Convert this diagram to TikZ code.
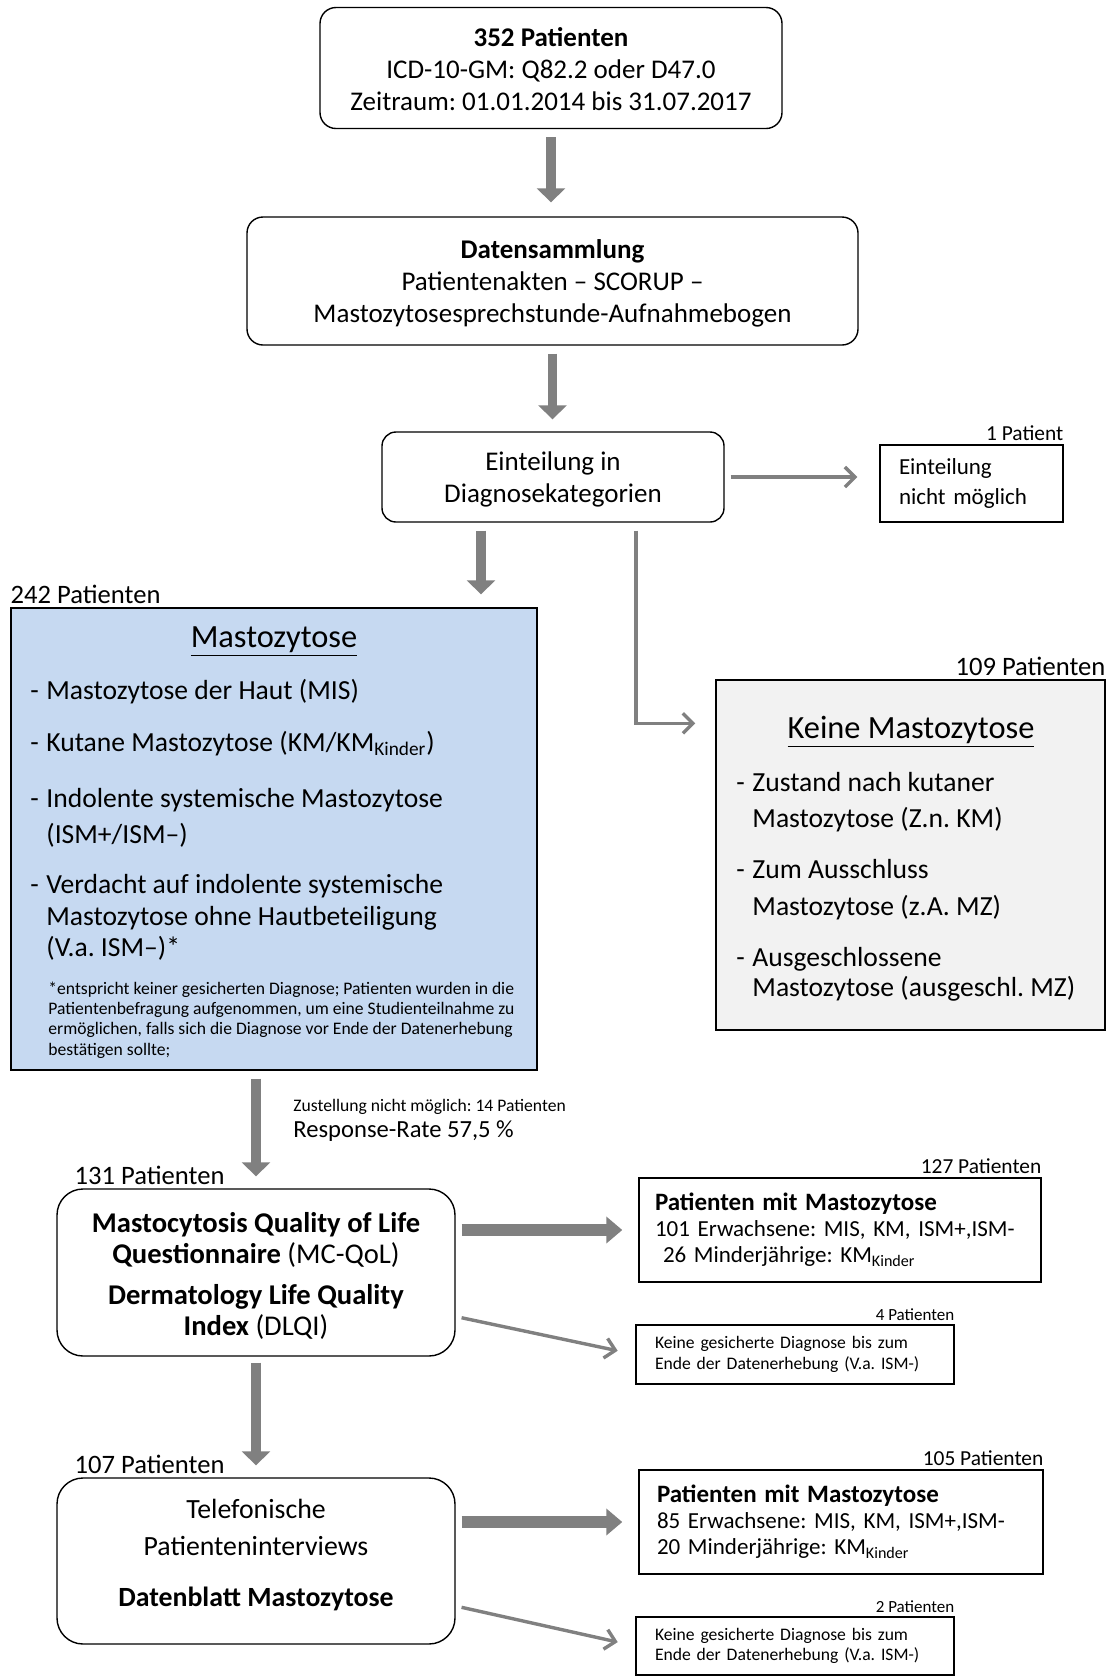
\documentclass[tikz,border=0pt]{standalone}
\usepackage{fontspec}
\setmainfont{Carlito}
\usetikzlibrary{arrows.meta, positioning}

\definecolor{arrowgray}{HTML}{808080}
\definecolor{mastoblue}{HTML}{C6D9F1}
\definecolor{keinegray}{HTML}{F2F2F2}

\newcommand{\fs}[2]{\fontsize{#1}{#2}\selectfont}
\newcommand{\itemdash}{\makebox[8pt][l]{-}}
\frenchspacing

\tikzset{
  roundbox/.style={draw, line width=0.7pt, rounded corners=8pt, align=center, font=\fs{13.5}{16}},
  sharpbox/.style={draw, line width=0.7pt, align=left, inner ysep=0pt},
  count/.style={inner xsep=0pt, inner ysep=1.5pt, font=\fs{13.3}{16}},
  smallcount/.style={inner xsep=0pt, inner ysep=1.5pt, font=\fs{10.7}{13}},
  tinycount/.style={inner xsep=0pt, inner ysep=1.5pt, font=\fs{8.5}{10}},
  item/.style={anchor=base west, inner sep=0pt, font=\fs{13.8}{17}},
  note/.style={anchor=base west, inner sep=0pt, font=\fs{8.8}{10.5}},
  boxtitle/.style={anchor=base, inner sep=0pt, font=\fs{16.2}{19}},
  thickarrow/.style={draw=arrowgray, line width=4.8pt, -{Triangle[length=7pt,width=14pt]}},
  widearrow/.style={draw=arrowgray, line width=6pt, -{Triangle[length=8pt,width=13pt]}},
  thinarrow/.style={draw=arrowgray, line width=1.7pt, -{Straight Barb[length=5pt,width=10pt]}}
}

\begin{document}
\begin{tikzpicture}[x=0.5pt, y=-0.5pt]
\useasboundingbox (0,0) rectangle (1112,1678);

% upper part
\node[roundbox, minimum width=231pt, minimum height=60.5pt] (patients) at (551,68)
  {\rule{0pt}{11pt}\textbf{352 Patienten}\\ICD-10-GM: Q82.2 oder D47.0\\Zeitraum: 01.01.2014 bis 31.07.2017};
\node[roundbox, minimum width=305.5pt, minimum height=64pt] (collect) at (552.5,281)
  {\rule{0pt}{12pt}\textbf{Datensammlung}\\Patientenakten -- SCORUP --\\Mastozytosesprechstunde-Aufnahmebogen};
\node[roundbox, rounded corners=7pt, minimum width=171pt, minimum height=45pt] (einteilung) at (553,477)
  {\rule{0pt}{11.5pt}Einteilung in\\Diagnosekategorien};
\node[sharpbox, inner xsep=9.5pt, text width=72.5pt, minimum height=38.5pt, font=\fs{11.5}{15}] (nomoeglich) at (971.5,483.5)
  {Einteilung\\nicht möglich};
\node[smallcount, anchor=south east] (n1) at (nomoeglich.north east) {1 Patient};

% Mastozytose
\node[draw, line width=0.7pt, fill=mastoblue, minimum width=263pt, minimum height=231pt] (masto) at (274,839) {};
\node[count, anchor=south west] (n242) at (masto.north west) {242 Patienten};
\node[boxtitle] (mastotitle) at (274,647) {\underline{Mastozytose}};
\node[item] (m1) at (30,699) {\itemdash Mastozytose der Haut (MIS)};
\node[item] (m2) at (30,751) {\itemdash Kutane Mastozytose (KM/KM\textsubscript{Kinder})};
\node[item] (m3) at (30,807) {\itemdash Indolente systemische Mastozytose};
\node[item] (m3b) at (46,843) {(ISM+/ISM--)};
\node[item] (m4) at (30,893) {\itemdash Verdacht auf indolente systemische};
\node[item] (m4b) at (46,925) {Mastozytose ohne Hautbeteiligung};
\node[item] (m4c) at (46,956) {(V.a. ISM--)*};
\node[note] (f1) at (48,994) {*entspricht keiner gesicherten Diagnose; Patienten wurden in die};
\node[note] (f2) at (48,1014) {Patientenbefragung aufgenommen, um eine Studienteilnahme zu};
\node[note] (f3) at (48,1034) {ermöglichen, falls sich die Diagnose vor Ende der Datenerhebung};
\node[note] (f4) at (48,1055) {bestätigen sollte;};

% keine Mastozytose
\node[draw, line width=0.7pt, fill=keinegray, minimum width=194.5pt, minimum height=175pt] (keine) at (910.5,855) {};
\node[count, anchor=south east] (n109) at (keine.north east) {109 Patienten};
\node[boxtitle] (keinetitle) at (911,738) {\underline{Keine Mastozytose}};
\node[item] (k1) at (736,791) {\itemdash Zustand nach kutaner};
\node[item] (k1b) at (752,827) {Mastozytose (Z.n. KM)};
\node[item] (k2) at (736,878) {\itemdash Zum Ausschluss};
\node[item] (k2b) at (752,915) {Mastozytose (z.A. MZ)};
\node[item] (k3) at (736,966) {\itemdash Ausgeschlossene};
\node[item] (k3b) at (752,996) {Mastozytose (ausgeschl. MZ)};

% Befragung
\node[anchor=west, inner sep=0pt, font=\fs{8.8}{10}] (zustellung) at (293,1107) {Zustellung nicht möglich: 14 Patienten};
\node[anchor=west, inner sep=0pt, font=\fs{12.3}{14}] (response) at (293,1131) {Response-Rate 57,5 \%};

\node[roundbox, rounded corners=13pt, font=\fs{14.3}{15.5}, minimum width=199pt, minimum height=83.5pt] (mcqol) at (256,1272.5)
  {\rule{0pt}{13.5pt}\textbf{Mastocytosis Quality of Life}\\\textbf{Questionnaire} (MC-QoL)\\[5pt]\textbf{Dermatology Life Quality}\\\textbf{Index} (DLQI)};
\node[count, anchor=south west] (n131) at ([xshift=9pt]mcqol.north west) {131 Patienten};
\node[sharpbox, inner xsep=8pt, text width=185pt, minimum height=52pt, font=\fs{11.5}{13}] (mit1) at (840,1230)
  {{\fs{12.5}{13}\textbf{Patienten mit Mastozytose}}\\101 Erwachsene: MIS, KM, ISM+,ISM-\\\hspace*{4pt}26 Minderjährige: KM\textsubscript{Kinder}};
\node[smallcount, anchor=south east] (n127) at (mit1.north east) {127 Patienten};
\node[sharpbox, inner xsep=9.5pt, text width=140pt, minimum height=29.5pt, font=\fs{8.8}{10.3}] (unsicher1) at (795,1354.5)
  {Keine gesicherte Diagnose bis zum\\Ende der Datenerhebung (V.a. ISM-)};
\node[tinycount, anchor=south east] (n4) at (unsicher1.north east) {4 Patienten};

\node[roundbox, rounded corners=13pt, font=\fs{13.9}{16}, minimum width=199pt, minimum height=83pt] (interview) at (256,1561)
  {Telefonische\\[2.5pt]Patienteninterviews\\[9.5pt]\textbf{Datenblatt Mastozytose}\rule[-8pt]{0pt}{8pt}};
\node[count, anchor=south west] (n107) at ([xshift=9pt]interview.north west) {107 Patienten};
\node[sharpbox, inner xsep=9pt, text width=184pt, minimum height=52pt, font=\fs{11.5}{13}] (mit2) at (841,1522)
  {{\fs{12.5}{13}\textbf{Patienten mit Mastozytose}}\\85 Erwachsene: MIS, KM, ISM+,ISM-\\20 Minderjährige: KM\textsubscript{Kinder}};
\node[smallcount, anchor=south east] (n105) at (mit2.north east) {105 Patienten};
\node[sharpbox, inner xsep=9.5pt, text width=140pt, minimum height=29pt, font=\fs{8.8}{10.3}] (unsicher2) at (795,1646)
  {Keine gesicherte Diagnose bis zum\\Ende der Datenerhebung (V.a. ISM-)};
\node[tinycount, anchor=south east] (n2) at (unsicher2.north east) {2 Patienten};

% arrows
\coordinate (splitL) at ([xshift=-36pt]einteilung.south);
\coordinate (splitR) at ([xshift=41.5pt]einteilung.south);
\coordinate (mcqolout) at ([yshift=-22pt]mcqol.east);
\coordinate (interviewout) at ([yshift=-22.5pt]interview.east);

\draw[thickarrow, shorten <=4pt, shorten >=7pt] (patients.south) -- (patients.south |- collect.north);
\draw[thickarrow, shorten <=4pt, shorten >=6pt] (collect.south) -- (collect.south |- einteilung.north);
\draw[thinarrow, shorten <=3pt, shorten >=11pt] (einteilung.east) -- (einteilung.east -| nomoeglich.west);
\draw[thickarrow, shorten <=4pt, shorten >=6.5pt] (splitL) -- (splitL |- masto.north);
\draw[thinarrow, shorten <=4pt, shorten >=10pt] (splitR) |- ([yshift=-22pt]keine.north west);
\draw[thickarrow, shorten <=4pt, shorten >=6pt] (masto.south -| mcqol.north) -- (mcqol.north);
\draw[widearrow, shorten <=3pt, shorten >=8pt] (mcqol.east |- mit1.west) -- (mit1.west);
\draw[thinarrow, shorten <=3pt, shorten >=9pt] (mcqolout) -- (unsicher1.west);
\draw[thickarrow, shorten <=3pt, shorten >=6pt] (mcqol.south) -- (interview.north);
\draw[widearrow, shorten <=3pt, shorten >=8pt] (interview.east |- mit2.west) -- (mit2.west);
\draw[thinarrow, shorten <=3pt, shorten >=9pt] (interviewout) -- (unsicher2.west);
\end{tikzpicture}
\end{document}
